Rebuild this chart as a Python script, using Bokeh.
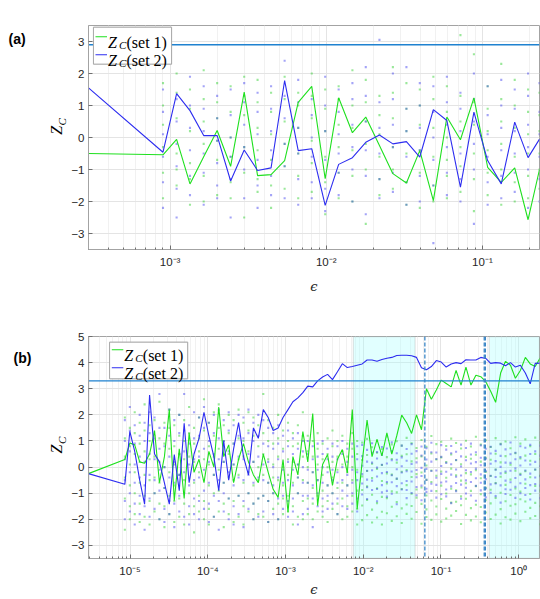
import math

from bokeh.core.properties import value
from bokeh.embed import file_html
from bokeh.layouts import column, row
from bokeh.models import (Arrow, BoxAnnotation, CustomJSTickFormatter, FixedTicker,
                          Label, Range1d, Span)
from bokeh.plotting import figure
from bokeh.resources import INLINE

# ------------------------------------------------------------------ data (a)
eps_a = [3.0e-4, 9.0e-4, 1.10e-3, 1.34e-3, 1.64e-3, 2.00e-3, 2.44e-3, 2.98e-3,
         3.63e-3, 4.43e-3, 5.41e-3, 6.61e-3, 8.07e-3, 9.84e-3, 1.20e-2, 1.47e-2,
         1.79e-2, 2.19e-2, 2.67e-2, 3.26e-2, 3.97e-2, 4.85e-2, 5.92e-2, 7.23e-2,
         8.82e-2, 0.108, 0.132, 0.161, 0.196, 0.232]

zc_a_set1 = [-0.50, -0.54, -0.06, -1.45, -0.60, 0.22, -0.90, 1.42, -1.19, -1.16,
             -0.72, 1.10, 1.60, -1.29, 1.24, 0.15, 0.64, -0.25, -1.13, -1.42,
             -0.41, -1.97, 0.64, -0.07, 1.24, -0.93, -1.40, -0.95, -2.57, -1.00]

zc_a_set2 = [1.55, -0.46, 1.37, 0.84, 0.06, 0.06, -1.36, -0.39, -1.03, -0.95,
             1.78, -0.41, -0.35, -2.12, -0.84, -0.63, -0.15, 0.08, -0.20, -0.13,
             -0.61, 0.87, 0.53, -1.55, 0.79, -0.72, -1.45, 0.48, -0.63, -0.05]

# individual samples, one column per eps_a[1:] value
samples_a_set1 = [
    [1.7, 1.0, 0.4, -0.3, -1.1, -1.9], [2.0, 1.4, 0.6, -0.5, -1.0, -1.5],
    [1.5, 0.9, 0.2, -0.8, -1.3, -2.1], [2.1, 1.2, 0.5, -0.2, -1.2, -2.0],
    [1.7, 1.1, 0.6, -0.1, -0.7, -1.8], [1.6, 0.8, 0.0, -0.6, -1.4, -1.9],
    [1.9, 1.3, 0.7, -0.3, -1.1, -2.5], [1.8, 1.1, 0.3, -0.4, -1.3, -1.7],
    [1.4, 0.8, 0.1, -0.7, -1.5, -2.2], [1.9, 1.2, 0.5, -0.2, -0.9, -1.6],
    [1.4, 1.0, 0.3, -0.5, -1.2, -1.9], [2.0, 1.3, 0.6, -0.1, -0.8, -1.7],
    [1.5, 0.9, 0.2, -0.6, -1.4, -2.4], [1.6, 1.2, 0.4, -0.3, -1.1, -1.9],
    [2.1, 1.0, 0.3, -0.4, -1.2, -2.0], [1.8, 1.1, 0.5, -0.2, -1.0, -2.7],
    [1.3, 0.7, 0.1, -0.6, -1.3, -1.8], [2.2, 1.4, 0.6, -0.3, -1.0, -1.6],
    [1.7, 0.9, 0.2, -0.5, -1.4, -2.1], [1.5, 1.0, 0.4, -0.4, -1.1, -2.2],
    [1.9, 1.2, 0.3, -0.6, -1.5, -2.0], [1.6, 0.8, 0.0, -0.7, -1.2, -1.9],
    [3.2, 1.3, 0.5, -0.3, -0.9, -1.7], [2.6, 1.1, 0.4, -0.5, -1.3, -2.3],
    [1.6, 0.9, 0.2, -0.4, -1.1, -1.8], [2.3, 1.2, 0.5, -0.2, -1.0, -2.1],
    [1.8, 1.0, 0.3, -0.6, -1.4, -2.0], [1.5, 0.8, 0.1, -0.5, -1.2, -1.9],
    [1.4, 0.7, 0.2, -0.5, -1.0, -1.6],
]
samples_a_set2 = [
    [1.5, 0.8, 0.1, -0.6, -1.4, -2.2], [1.2, 0.5, -0.2, -0.9, -1.6, -2.5],
    [1.9, 1.0, 0.3, -0.4, -1.2, -1.8], [1.6, 0.9, 0.2, -0.5, -1.1, -2.1],
    [1.3, 0.6, -0.1, -0.8, -1.5, -1.9], [1.5, 0.7, 0.0, -0.6, -1.3, -2.5],
    [1.7, 1.1, 0.4, -0.3, -1.0, -1.9], [1.4, 0.8, 0.1, -0.7, -1.5, -2.2],
    [1.6, 0.9, 0.2, -0.4, -1.2, -1.8], [2.4, 1.3, 0.6, -0.2, -0.9, -1.9],
    [1.8, 1.1, 0.3, -0.5, -1.3, -2.1], [1.2, 0.7, 0.0, -0.6, -1.4, -1.9],
    [1.9, 1.0, 0.2, -0.7, -1.6, -2.3], [1.5, 0.8, 0.1, -0.5, -1.1, -1.8],
    [1.7, 1.2, 0.4, -0.3, -1.0, -2.0], [2.2, 1.3, 0.5, -0.4, -1.2, -2.4],
    [3.05, 1.1, 0.3, -0.5, -1.3, -1.9], [2.0, 1.2, 0.4, -0.3, -1.1, -1.7],
    [2.2, 0.9, 0.2, -0.6, -1.4, -2.1], [1.7, 1.0, 0.3, -0.4, -1.2, -2.0],
    [1.6, 0.8, 0.0, -0.7, -1.5, -3.3], [1.9, 1.1, 0.4, -0.3, -1.1, -1.8],
    [1.4, 0.9, 0.2, -0.5, -1.3, -2.0], [2.0, 1.2, 0.5, -0.2, -1.0, -2.7],
    [1.6, 0.7, 0.1, -0.6, -1.4, -2.1], [1.8, 1.0, 0.3, -0.4, -1.2, -1.9],
    [1.5, 0.9, 0.2, -0.5, -1.1, -1.7], [2.0, 1.3, 0.4, -0.3, -1.0, -2.2],
    [1.7, 0.8, 0.1, -0.6, -1.3, -2.0],
]
threshold_a = 2.9

# ------------------------------------------------------------------ data (b)
eps_b_exponent = [
    -5.535,
    -5.067, -5.003, -4.940, -4.876, -4.813, -4.749, -4.685, -4.622, -4.558, -4.495,
    -4.431, -4.367, -4.304, -4.240, -4.177, -4.113, -4.049, -3.986, -3.922, -3.859,
    -3.795, -3.731, -3.668, -3.604, -3.541, -3.477, -3.413, -3.350, -3.286, -3.223,
    -3.159, -3.095, -3.032, -2.968, -2.905, -2.841, -2.777, -2.714, -2.650, -2.587,
    -2.523, -2.459, -2.396, -2.332, -2.269, -2.205, -2.141, -2.078, -2.014, -1.951,
    -1.887, -1.823, -1.760, -1.696, -1.633, -1.569, -1.505, -1.442, -1.378, -1.315,
    -1.251, -1.187, -1.124, -1.060, -0.997, -0.933, -0.869, -0.806, -0.742, -0.679,
    -0.615, -0.551, -0.488, -0.424, -0.361, -0.297, -0.233, -0.170, -0.106, -0.043,
    0.021, 0.085, 0.148, 0.212, 0.275,
]
eps_b = [10.0 ** e for e in eps_b_exponent]

zc_b_set1 = [
    -0.25,
    0.29, 0.92, 0.85, 0.20, 0.15, 0.50, 1.40, -0.60, 0.40, 2.20,
    -1.29, 0.70, -1.20, 1.30, -0.20, 0.30, -0.60, 0.60, 0.00, 2.30,
    0.40, 0.85, -0.60, 0.30, 0.90, 0.20, -0.30, -0.60, 0.50, -0.20,
    -0.85, -1.16, 0.29, -1.73, 0.40, -0.30, 1.36, 0.20, 2.05, -1.48,
    0.10, 0.48, -0.70, 0.30, 0.67, -0.22, 2.20, -1.60, 0.20, 1.80,
    0.40, 1.06, 0.43, 1.31, 0.50, 1.20, 1.99, 1.70, 1.29, 2.00,
    1.43, 3.00, 2.60, 2.95, 3.33, 3.20, 3.07, 3.70, 3.14, 3.83,
    3.14, 3.52, 3.46, 3.27, 2.90, 2.48, 3.60, 4.05, 3.90, 3.40,
    3.70, 4.20, 3.95, 3.85, 4.18,
]
zc_b_set2 = [
    -0.25,
    -0.66, 1.37, 0.60, -0.50, -1.42, 2.76, 0.50, 0.20, -0.60, -1.42,
    0.48, -0.90, 1.68, -0.60, 0.50, 1.10, 2.10, 1.20, 0.40, -0.90,
    1.00, -0.50, 0.70, 1.70, 0.40, -0.30, 1.50, 1.10, 2.20, 1.90,
    1.40, 1.50, 1.90, 2.20, 2.50, 2.65, 2.85, 3.10, 3.07, 3.30,
    3.45, 3.55, 3.35, 3.65, 3.96, 3.81, 3.85, 3.90, 3.95, 4.10,
    4.10, 4.05, 4.12, 4.17, 4.20, 4.27, 4.28, 4.28, 4.26, 4.20,
    3.80, 3.73, 3.85, 4.08, 4.02, 3.83, 3.95, 4.00, 3.96, 4.11,
    4.10, 4.10, 4.20, 4.16, 3.97, 4.00, 3.98, 3.88, 4.00, 3.83,
    3.90, 3.60, 3.19, 3.97, 3.98,
]

# individual samples, one column per eps_b[1:] value
samples_b_set1 = [
    [1.9, 1.1, 0.4, -0.4, -1.2, -2.4], [1.5, 0.8, 0.1, -0.7, -1.5, -2.0],
    [2.1, 1.3, 0.5, -0.2, -1.0, -1.8], [1.7, 0.9, 0.2, -0.6, -1.4, -2.1],
    [2.4, 1.4, 0.6, -0.3, -1.1, -1.9], [1.6, 1.0, 0.3, -0.5, -1.3, -2.2],
    [1.8, 1.2, 0.4, -0.4, -1.0, -1.7], [2.5, 1.1, 0.2, -0.6, -1.4, -2.0],
    [1.7, 0.9, 0.0, -0.8, -1.5, -2.3], [2.2, 1.5, 0.7, -0.2, -1.1, -1.8],
    [1.6, 0.8, 0.1, -0.7, -1.3, -2.1], [2.0, 1.2, 0.5, -0.3, -1.2, -1.9],
    [1.8, 1.0, 0.3, -0.5, -1.4, -2.2], [2.3, 1.3, 0.4, -0.4, -1.0, -1.8],
    [1.5, 0.9, 0.2, -0.6, -1.5, -2.5], [1.9, 1.1, 0.6, -0.2, -1.1, -1.7],
    [2.6, 1.4, 0.3, -0.5, -1.3, -2.0], [1.7, 0.8, 0.1, -0.7, -1.6, -2.2],
    [2.1, 1.2, 0.4, -0.3, -1.0, -1.9], [2.4, 1.5, 0.7, -0.1, -0.9, -1.7],
    [1.6, 1.0, 0.2, -0.6, -1.4, -2.3], [2.0, 1.3, 0.5, -0.4, -1.2, -1.8],
    [1.8, 0.9, 0.1, -0.5, -1.3, -2.1], [2.2, 1.1, 0.3, -0.3, -1.1, -1.9],
    [1.7, 1.0, 0.4, -0.6, -1.5, -2.2], [2.1, 1.4, 0.6, -0.2, -1.0, -1.7],
    [1.9, 1.2, 0.2, -0.7, -1.4, -2.0], [1.6, 0.8, 0.0, -0.5, -1.2, -1.8],
    [2.8, 1.3, 0.5, -0.3, -1.1, -1.9], [1.8, 1.0, 0.3, -0.6, -1.3, -2.1],
    [1.5, 0.9, 0.1, -0.4, -1.0, -1.6], [2.0, 1.1, 0.4, -0.5, -1.4, -2.0],
    [1.4, 0.7, 0.0, -0.7, -1.2, -1.8], [1.7, 1.0, 0.3, -0.3, -1.1, -1.7],
    [1.3, 0.8, 0.2, -0.6, -1.5, -2.2], [1.6, 0.9, 0.1, -0.4, -1.0, -1.9],
    [2.1, 1.2, 0.4, -0.5, -1.3, -2.0],
    [1.2, 0.6, 0.0, -0.6, -1.2, -1.8], [1.0, 0.4, -0.2, -0.8, -1.4, -2.0],
    [1.3, 0.7, 0.1, -0.5, -1.1, -1.7], [0.9, 0.3, -0.3, -0.9, -1.5, -1.9],
    [1.1, 0.5, 0.0, -0.7, -1.3, -2.1], [1.4, 0.8, 0.2, -0.4, -1.0, -1.6],
    [1.0, 0.4, -0.1, -0.8, -1.4, -1.8], [1.2, 0.6, 0.1, -0.6, -1.2, -2.0],
    [0.9, 0.4, -0.2, -0.7, -1.5, -1.9], [1.3, 0.7, 0.0, -0.5, -1.1, -1.7],
    [1.0, 0.5, -0.1, -0.9, -1.6, -2.2],
    [0.94, 0.27, -0.36, -0.88, -1.47, -2.03], [1.08, 0.46, -0.15, -0.74, -1.26, -1.84],
    [0.76, 0.13, -0.42, -1.06, -1.63, -2.12], [1.02, 0.55, -0.07, -0.81, -1.38, -1.93],
    [0.69, 0.08, -0.53, -1.14, -1.71, -2.20], [1.17, 0.38, -0.24, -0.63, -1.19, -1.77],
    [0.87, 0.31, -0.29, -0.93, -1.52, -2.06], [0.99, 0.17, -0.45, -0.97, -1.34, -1.88],
    [0.82, 0.43, -0.18, -0.84, -1.58, -2.14], [1.12, 0.49, -0.11, -0.69, -1.43, -1.79],
    [0.91, 0.22, -0.38, -1.02, -1.49, -1.98], [0.73, 0.34, -0.27, -0.86, -1.17, -1.72],
    [1.04, 0.41, -0.21, -0.78, -1.41, -2.17], [0.78, 0.06, -0.49, -1.09, -1.62, -1.91],
    [1.19, 0.52, -0.13, -0.57, -1.28, -2.02], [0.88, 0.29, -0.33, -0.92, -1.51, -1.81],
    [0.97, 0.37, -0.17, -0.71, -1.22, -2.09], [0.81, 0.19, -0.41, -1.01, -1.59, -1.97],
    [1.09, 0.48, -0.06, -0.83, -1.36, -1.86], [0.92, 0.26, -0.31, -0.89, -1.33, -1.68],
    [0.71, 0.11, -0.52, -1.12, -1.46, -2.18], [1.01, 0.39, -0.23, -0.62, -1.21, -1.83],
    [0.79, 0.32, -0.28, -0.91, -1.57, -2.04], [1.16, 0.47, -0.12, -0.73, -1.44, -1.89],
    [0.86, 0.21, -0.43, -1.04, -1.53, -2.11], [1.03, 0.36, -0.19, -0.79, -1.27, -1.74],
    [0.77, 0.28, -0.34, -0.87, -1.39, -1.99], [1.11, 0.51, -0.09, -0.61, -1.18, -1.82],
    [0.89, 0.18, -0.37, -0.98, -1.61, -2.16], [0.98, 0.42, -0.22, -0.68, -1.31, -1.92],
    [0.72, 0.09, -0.48, -1.07, -1.48, -2.01], [1.14, 0.53, -0.14, -0.82, -1.42, -1.78],
    [0.90, 0.33, -0.26, -0.94, -1.23, -2.07], [1.06, 0.44, -0.16, -0.64, -1.32, -1.71],
    [0.80, 0.24, -0.39, -1.03, -1.56, -1.96], [1.13, 0.50, -0.10, -0.72, -1.37, -1.87],
    [0.93, 0.30, -0.32, -0.90, -1.50, -2.19],
]
samples_b_set2 = [
    [1.8, 1.0, 0.3, -0.5, -1.3, -2.0], [2.3, 1.4, 0.6, -0.2, -1.0, -1.7],
    [1.6, 0.9, 0.1, -0.6, -1.4, -2.2], [2.0, 1.2, 0.4, -0.4, -1.1, -1.8],
    [1.7, 1.0, 0.2, -0.7, -1.5, -2.4], [2.1, 1.3, 0.5, -0.3, -1.2, -1.9],
    [1.9, 1.1, 0.3, -0.5, -1.0, -1.6], [2.8, 1.5, 0.7, -0.1, -0.9, -2.0],
    [1.5, 0.8, 0.0, -0.8, -1.6, -2.1], [2.2, 1.2, 0.4, -0.4, -1.3, -1.8],
    [1.8, 1.0, 0.2, -0.6, -1.4, -2.3], [2.0, 1.3, 0.5, -0.3, -1.1, -1.7],
    [2.8, 1.4, 0.6, -0.2, -1.0, -1.9], [1.6, 0.9, 0.1, -0.7, -1.5, -2.2],
    [2.1, 1.1, 0.3, -0.5, -1.2, -1.8], [1.9, 1.2, 0.4, -0.4, -1.3, -2.0],
    [2.3, 1.5, 0.7, -0.1, -0.9, -1.6], [1.7, 1.0, 0.2, -0.6, -1.4, -2.1],
    [2.0, 1.3, 0.5, -0.3, -1.1, -1.9], [2.2, 1.1, 0.3, -0.5, -1.3, -2.4],
    [1.8, 1.0, 0.2, -0.6, -1.0, -1.7], [2.1, 1.4, 0.6, -0.2, -1.2, -2.0],
    [1.6, 0.9, 0.1, -0.7, -1.5, -2.2], [2.0, 1.2, 0.4, -0.4, -1.1, -1.8],
    [1.9, 1.1, 0.3, -0.5, -1.3, -2.3], [2.2, 1.3, 0.5, -0.3, -1.0, -1.6],
    [1.7, 1.0, 0.2, -0.6, -1.4, -2.0], [2.0, 1.2, 0.4, -0.4, -1.2, -1.9],
    [1.8, 0.9, 0.1, -0.5, -1.1, -1.7], [1.5, 0.8, 0.2, -0.6, -1.3, -2.1],
    [1.3, 0.7, 0.0, -0.7, -1.0, -1.8], [1.6, 0.9, 0.3, -0.4, -1.2, -2.0],
    [1.2, 0.6, -0.1, -0.6, -1.1, -1.6], [1.4, 0.8, 0.2, -0.5, -1.3, -1.9],
    [1.1, 0.5, -0.1, -0.7, -1.2, -1.7], [1.3, 0.7, 0.1, -0.4, -1.0, -2.2],
    [1.0, 0.6, 0.0, -0.6, -1.1, -1.8],
    [1.0, 0.5, -0.1, -0.6, -1.1, -1.6], [0.8, 0.3, -0.2, -0.7, -1.2, -2.3],
    [0.9, 0.4, -0.1, -0.5, -1.0, -1.5], [1.0, 0.5, 0.0, -0.6, -1.2, -1.7],
    [0.7, 0.3, -0.2, -0.7, -1.1, -1.6], [0.9, 0.4, -0.1, -0.5, -1.0, -1.4],
    [0.8, 0.3, -0.2, -0.6, -1.2, -1.8], [1.0, 0.5, 0.0, -0.5, -0.9, -1.5],
    [0.7, 0.2, -0.3, -0.7, -1.1, -1.6], [0.9, 0.4, -0.1, -0.6, -1.0, -1.4],
    [0.8, 0.3, -0.2, -0.5, -1.2, -1.7],
    [0.85, 0.42, 0.05, -0.27, -0.63, -1.05], [0.66, 0.21, -0.14, -0.48, -0.77, -1.22],
    [0.91, 0.55, 0.17, -0.12, -0.52, -0.88], [0.58, 0.33, -0.02, -0.36, -0.84, -1.31],
    [0.77, 0.46, 0.09, -0.23, -0.69, -0.97], [0.71, 0.14, -0.19, -0.57, -0.91, -1.13],
    [0.95, 0.61, 0.26, -0.31, -0.58, -1.02], [0.53, 0.28, -0.08, -0.44, -0.73, -1.42],
    [0.82, 0.37, 0.03, -0.21, -0.62, -0.86], [0.69, 0.24, -0.16, -0.53, -0.88, -1.19],
    [0.88, 0.51, 0.12, -0.17, -0.55, -0.99], [0.61, 0.18, -0.11, -0.39, -0.76, -1.08],
    [0.79, 0.44, -0.03, -0.34, -0.71, -1.27], [0.72, 0.29, -0.07, -0.49, -0.83, -0.95],
    [0.93, 0.57, 0.21, -0.15, -0.64, -0.91], [0.56, 0.31, -0.13, -0.41, -0.68, -1.17],
    [0.84, 0.39, 0.04, -0.26, -0.59, -1.04], [0.67, 0.16, -0.18, -0.55, -0.86, -1.12],
    [0.81, 0.53, 0.11, -0.29, -0.74, -1.38], [0.59, 0.27, -0.09, -0.37, -0.61, -0.92],
    [0.86, 0.41, 0.02, -0.32, -0.67, -1.21], [0.73, 0.26, -0.12, -0.51, -0.79, -1.01],
    [0.90, 0.48, 0.14, -0.19, -0.57, -1.09], [0.57, 0.19, -0.06, -0.43, -0.72, -1.29],
    [0.83, 0.36, 0.07, -0.28, -0.60, -0.89], [0.70, 0.32, -0.15, -0.46, -0.82, -1.16],
    [0.78, 0.52, 0.13, -0.33, -0.66, -0.98], [0.62, 0.23, -0.10, -0.38, -0.63, -1.11],
    [0.87, 0.43, 0.01, -0.24, -0.70, -1.36], [0.68, 0.17, -0.17, -0.52, -0.85, -1.03],
    [0.94, 0.49, 0.16, -0.14, -0.58, -0.87], [0.55, 0.30, -0.05, -0.42, -0.75, -1.18],
    [0.80, 0.38, 0.06, -0.30, -0.62, -1.00], [0.74, 0.25, -0.13, -0.47, -0.80, -1.07],
    [0.85, 0.50, 0.10, -0.25, -0.69, -1.24], [0.60, 0.20, -0.09, -0.40, -0.65, -0.90],
    [0.82, 0.44, 0.03, -0.35, -0.71, -1.19],
]
threshold_b = 3.3
shaded_b = [(0.00746, 0.0464), (0.418, 1.85)]
marker_lines_b = [0.062, 0.360, 0.372]

# ------------------------------------------------------------------ axes
x_limits_a = (eps_a[0], eps_a[-1])
y_limits_a = (-3.5, 3.5)
x_ticks_a = [1e-3, 1e-2, 1e-1]
y_ticks_a = [-3, -2, -1, 0, 1, 2, 3]

x_limits_b = (2.92e-6, 1.85)
y_limits_b = (-3.5, 5.0)
x_ticks_b = [1e-5, 1e-4, 1e-3, 1e-2, 1e-1, 1e0]
y_ticks_b = [-3, -2, -1, 0, 1, 2, 3, 4, 5]

series_names = ["set 1", "set 2"]

# ------------------------------------------------------------------ style
SET1 = "#1fe01f"
SET2 = "#2d2df0"
SET1_DOT = "#22cc22"
SET2_DOT = "#3535ee"
THRESH = "#1f82d0"
FRAME = "#a3a3a3"
TICK = "#6e6e6e"
GRID = "#e4e4e4"
MINOR_GRID = "#f1f1f1"
LEGEND_EDGE = "#a8a8a8"
SERIF = "Liberation Serif"
SANS = "Liberation Sans"

SIDE_W = 68          # strip left of each panel holding the panel tag and y title
FRAME_LEFT = 83      # page x of the plotting frame's left edge
FRAME_W = 456
FRAME_H = 224
LEGEND_W = 79
LEGEND_H = 37

SUPERSCRIPT = CustomJSTickFormatter(code="""
const sup = {'-': '\\u207b', '0': '\\u2070', '1': '\\u00b9', '2': '\\u00b2',
             '3': '\\u00b3', '4': '\\u2074', '5': '\\u2075', '6': '\\u2076',
             '7': '\\u2077', '8': '\\u2078', '9': '\\u2079'};
const e = Math.round(Math.log10(tick));
let s = '';
for (const c of String(e)) { s += sup[c]; }
return '10' + s;
""")


class PixelMap:
    """Converts page pixels inside a panel's frame to that panel's data units."""

    def __init__(self, x_limits, y_limits, frame_bottom):
        self.lx0 = math.log10(x_limits[0])
        self.lx1 = math.log10(x_limits[1])
        self.y_limits = y_limits
        self.frame_bottom = frame_bottom

    def x(self, px):
        return 10.0 ** (self.lx0 + (px - FRAME_LEFT) * (self.lx1 - self.lx0) / FRAME_W)

    def y(self, py):
        y0, y1 = self.y_limits
        return y0 + (self.frame_bottom - py) * (y1 - y0) / FRAME_H


def make_panel(height, top, bottom, x_limits, y_limits, x_ticks, y_ticks, xlabel_gap):
    p = figure(width=540 - SIDE_W, height=height, x_axis_type="log",
               x_range=Range1d(*x_limits), y_range=Range1d(*y_limits),
               output_backend="svg", toolbar_location=None,
               min_border_left=FRAME_LEFT - SIDE_W, min_border_right=1,
               min_border_top=top, min_border_bottom=bottom)
    lo = math.floor(math.log10(x_limits[0]))
    hi = math.ceil(math.log10(x_limits[1]))
    minor = [m * 10.0 ** e for e in range(lo, hi + 1) for m in range(2, 10)]
    xt = FixedTicker(ticks=x_ticks, minor_ticks=minor)
    yt = FixedTicker(ticks=y_ticks, minor_ticks=[])
    p.xaxis.ticker = xt
    p.yaxis.ticker = yt
    p.xgrid.ticker = xt
    p.ygrid.ticker = yt
    p.xaxis.formatter = SUPERSCRIPT
    for ax in (p.xaxis[0], p.yaxis[0]):
        ax.axis_line_color = FRAME
        ax.major_tick_line_color = TICK
        ax.minor_tick_line_color = TICK
        ax.major_tick_in = 4
        ax.major_tick_out = 0
        ax.minor_tick_in = 2
        ax.minor_tick_out = 0
        ax.major_label_text_font = SANS
        ax.major_label_text_font_size = "11.5px"
        ax.major_label_text_color = "#262626"
    p.yaxis.minor_tick_line_color = None
    p.xaxis.major_label_standoff = 6
    p.yaxis.major_label_standoff = 4
    p.xaxis.axis_label = "\u03f5"
    p.xaxis.axis_label_text_font = "DejaVu Serif"
    p.xaxis.axis_label_text_font_style = "italic"
    p.xaxis.axis_label_text_font_size = "13px"
    p.xaxis.axis_label_text_color = "#262626"
    p.xaxis.axis_label_standoff = xlabel_gap
    p.xgrid.grid_line_color = GRID
    p.ygrid.grid_line_color = GRID
    p.xgrid.minor_grid_line_color = MINOR_GRID
    p.outline_line_color = FRAME
    p.background_fill_color = "white"
    p.border_fill_color = "white"
    return p


def make_side(height):
    s = figure(width=SIDE_W, height=height, x_range=Range1d(0, SIDE_W),
               y_range=Range1d(0, height), output_backend="svg",
               toolbar_location=None, min_border=0,
               x_axis_location=None, y_axis_location=None)
    s.xgrid.visible = False
    s.ygrid.visible = False
    s.outline_line_color = None
    s.background_fill_color = "white"
    s.border_fill_color = "white"
    return s


def add_legend_box(p, pm, bx, by):
    # white legend panel sitting above the grid
    p.add_layout(BoxAnnotation(left=pm.x(bx), right=pm.x(bx + LEGEND_W),
                               top=pm.y(by), bottom=pm.y(by + LEGEND_H),
                               fill_color="white", fill_alpha=1.0,
                               line_color=LEGEND_EDGE, line_width=1,
                               level="underlay"))


def add_series(p, pm, eps, zc1, zc2, samples1, samples2, threshold, x_limits, bx, by):
    for samples, colour in ((samples1, SET1_DOT), (samples2, SET2_DOT)):
        xs = [x for x, col in zip(eps[1:], samples) for _ in col]
        ys = [y for col in samples for y in col]
        p.scatter(xs, ys, marker="square", size=2.1, fill_color=colour,
                  fill_alpha=0.45, line_color=None)
    p.line(eps, zc1, line_color=SET1, line_width=1.1)
    p.line(eps, zc2, line_color=SET2, line_width=1.1)
    # critical level across the eps span, passing behind the legend panel
    if pm.y(by + LEGEND_H) <= threshold <= pm.y(by):
        pieces = [(x_limits[0], pm.x(bx)), (pm.x(bx + LEGEND_W), x_limits[1])]
    else:
        pieces = [x_limits]
    for x0, x1 in pieces:
        p.line([x0, x1], [threshold, threshold], line_color=THRESH, line_width=1.4)
    # legend outline as a closed polyline
    xl, xr = pm.x(bx), pm.x(bx + LEGEND_W)
    yt, yb = pm.y(by), pm.y(by + LEGEND_H)
    p.line([xl, xr, xr, xl, xl], [yt, yt, yb, yb, yt],
           line_color=LEGEND_EDGE, line_width=1)


def put_label(p, frame_bottom, px, py, s, size, style="normal"):
    p.add_layout(Label(x=px - FRAME_LEFT, y=frame_bottom - py,
                       x_units="screen", y_units="screen", text=s,
                       text_font=SERIF, text_font_size=f"{size}px",
                       text_font_style=style, text_align="left",
                       text_baseline="alphabetic", text_color="#000000"))


def add_legend_entries(p, frame_bottom, bx, by):
    for i, (name, colour) in enumerate(zip(series_names, (SET1, SET2))):
        row_y = by + 9.5 + 18 * i
        p.add_layout(Arrow(end=None,
                           x_start=bx + 2 - FRAME_LEFT, y_start=frame_bottom - row_y,
                           x_end=bx + 13.5 - FRAME_LEFT, y_end=frame_bottom - row_y,
                           start_units="screen", end_units="screen",
                           line_color=colour, line_width=1.1))
        base = row_y + 5.5
        put_label(p, frame_bottom, bx + 14.5, base, "Z", 16, "italic")
        put_label(p, frame_bottom, bx + 25.5, base + 2.8, "C", 11, "italic")
        put_label(p, frame_bottom, bx + 33, base, f"({name})", 16)


def add_side_texts(s, page_top, height, frame_mid, tag, tag_x, tag_y):
    def ys(py):
        return height - (py - page_top)

    s.text(x=[55.7], y=[ys(frame_mid + 3.5)], text=["Z"], angle=math.pi / 2,
           text_font=value(SERIF), text_font_style="italic", text_font_size="16px",
           text_align="center", text_baseline="middle", text_color="#000000")
    s.text(x=[61.5], y=[ys(frame_mid - 8)], text=["C"], angle=math.pi / 2,
           text_font=value(SERIF), text_font_style="italic", text_font_size="11px",
           text_align="center", text_baseline="middle", text_color="#000000")
    s.text(x=[tag_x], y=[ys(tag_y)], text=[tag],
           text_font=value(SANS), text_font_style="bold", text_font_size="14px",
           text_align="left", text_baseline="middle", text_color="#000000")


# ------------------------------------------------------------------ panel (a)
LEG_A = (88, 26.7)
pa = make_panel(300, 25, 51, x_limits_a, y_limits_a, x_ticks_a, y_ticks_a, 8)
pm_a = PixelMap(x_limits_a, y_limits_a, 249)
add_legend_box(pa, pm_a, *LEG_A)
add_series(pa, pm_a, eps_a, zc_a_set1, zc_a_set2, samples_a_set1, samples_a_set2,
           threshold_a, x_limits_a, *LEG_A)
add_legend_entries(pa, 249, *LEG_A)
sa = make_side(300)
add_side_texts(sa, 0, 300, 137, "(a)", 8, 18.5)

# ------------------------------------------------------------------ panel (b)
LEG_B = (104.3, 341.7)
pb = make_panel(299, 36, 39, x_limits_b, y_limits_b, x_ticks_b, y_ticks_b, 2)
pm_b = PixelMap(x_limits_b, y_limits_b, 560)
for left, right in shaded_b:
    pb.add_layout(BoxAnnotation(left=left, right=right,
                                bottom=y_limits_b[0], top=y_limits_b[1],
                                fill_color="#aaffff", fill_alpha=0.35,
                                line_color="#aaaaaa", line_width=1.3,
                                level="underlay"))
add_legend_box(pb, pm_b, *LEG_B)
add_series(pb, pm_b, eps_b, zc_b_set1, zc_b_set2, samples_b_set1, samples_b_set2,
           threshold_b, x_limits_b, *LEG_B)
for xv in marker_lines_b:
    pb.add_layout(Span(location=xv, dimension="height", line_color="#3a86c6",
                       line_width=1.3, line_dash="4 2"))
add_legend_entries(pb, 560, *LEG_B)
sb = make_side(299)
add_side_texts(sb, 300, 299, 448, "(b)", 13, 329)

layout = column(row(sa, pa), row(sb, pb))
open("out.html", "w", encoding="utf-8").write(file_html(layout, INLINE))
